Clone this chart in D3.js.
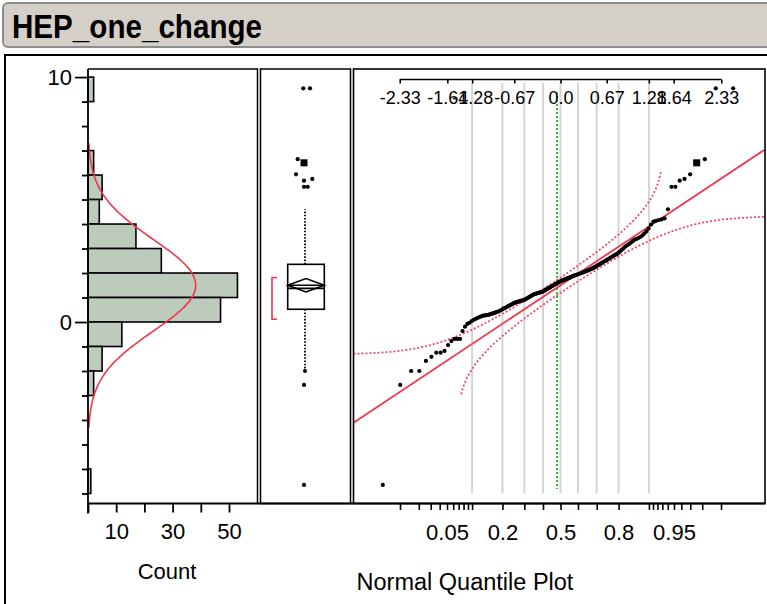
<!DOCTYPE html>
<html><head><meta charset="utf-8">
<script src="https://cdn.jsdelivr.net/npm/d3@7"></script>
<style>
body{margin:0;background:#fff}
svg{display:block}
text{font-family:"Liberation Sans",Arial,Helvetica,sans-serif;fill:#000}
</style>
</head><body>
<script>
// ---------------- DATA ----------------
const chartTitle = "HEP_one_change";
const countAxisTitle = "Count";
const qqAxisTitle = "Normal Quantile Plot";

// histogram bins (lower edge, width 1) and counts
const binLow = [9, 6, 5, 4, 3, 2, 1, 0, -1, -2, -3, -7];
const binCounts = [2, 2, 5, 4, 17, 26, 53, 47, 12, 5, 2, 1];
const binWidth = 1;

const sortedValues = [
-6.65,-2.57,-2.00,-2.00,-1.59,-1.42,-1.25,-1.25,-1.18,-0.94,
-0.78,-0.69,-0.69,-0.69,-0.37,-0.19,-0.08,-0.03,0.04,0.09,
0.13,0.17,0.20,0.23,0.26,0.27,0.28,0.29,0.31,0.33,
0.35,0.37,0.39,0.41,0.43,0.46,0.49,0.53,0.56,0.58,
0.61,0.64,0.66,0.69,0.72,0.74,0.77,0.79,0.80,0.82,
0.83,0.85,0.86,0.87,0.89,0.90,0.92,0.95,0.97,1.00,
1.02,1.05,1.07,1.10,1.12,1.14,1.15,1.16,1.18,1.19,
1.20,1.21,1.22,1.24,1.26,1.28,1.31,1.33,1.35,1.38,
1.40,1.42,1.45,1.47,1.49,1.52,1.54,1.56,1.59,1.61,
1.63,1.65,1.67,1.69,1.70,1.72,1.74,1.75,1.77,1.78,
1.80,1.81,1.83,1.85,1.86,1.88,1.90,1.91,1.93,1.94,
1.96,1.97,1.99,2.00,2.02,2.04,2.05,2.07,2.09,2.10,
2.12,2.14,2.16,2.18,2.20,2.23,2.25,2.28,2.31,2.33,
2.36,2.39,2.42,2.45,2.48,2.51,2.54,2.57,2.60,2.63,
2.66,2.70,2.73,2.76,2.79,2.84,2.89,2.95,3.00,3.06,
3.11,3.15,3.20,3.25,3.31,3.36,3.39,3.43,3.47,3.53,
3.61,3.70,3.82,3.98,4.10,4.13,4.16,4.19,4.23,4.60,
5.52,5.52,5.77,5.84,6.03,6.50,6.65,9.54,9.54
];
const highlightedValue = 6.50;   // row drawn with the large square marker

// summary statistics
const fitMean = 1.5;
const fitSD = 1.87;
const boxQ1 = 0.52, boxMedian = 1.375, boxQ3 = 2.355;
const shortestHalf = [0.11, 1.82];
const referenceZ = -0.05;        // green dotted reference line

// axis ticks
const valueTickLabels = [0, 10];
const countTicks = [0, 10, 20, 30, 40, 50];
const countTickLabels = [10, 30, 50];
const quantileTicks = [-2.33, -1.64, -1.28, -0.67, 0.0, 0.67, 1.28, 1.64, 2.33];
const quantileTickLabels = ["-2.33","-1.64","-1.28","-0.67","0.0","0.67","1.28","1.64","2.33"];
const probTicks = [0.01,0.02,0.03,0.04,0.05,0.06,0.07,0.08,0.09,0.1,0.2,0.3,0.4,0.5,0.6,0.7,0.8,0.9,0.91,0.92,0.93,0.94,0.95,0.96,0.97,0.98,0.99];
const probTickLabels = [0.05, 0.2, 0.5, 0.8, 0.95];
const gridProbs = [0.1,0.2,0.3,0.4,0.5,0.6,0.7,0.8,0.9];

// ---------------- helpers ----------------
function qnorm(p){
  const a=[-3.969683028665376e+01,2.209460984245205e+02,-2.759285104469687e+02,1.383577518672690e+02,-3.066479806614716e+01,2.506628277459239e+00];
  const b=[-5.447609879822406e+01,1.615858368580409e+02,-1.556989798598866e+02,6.680131188771972e+01,-1.328068155288572e+01];
  const c=[-7.784894002430293e-03,-3.223964580411365e-01,-2.400758277161838e+00,-2.549732539343734e+00,4.374664141464968e+00,2.938163982698783e+00];
  const d=[7.784695709041462e-03,3.224671290700398e-01,2.445134137142996e+00,3.754408661907416e+00];
  const pl=0.02425, ph=1-pl; let q,r;
  if(p<pl){q=Math.sqrt(-2*Math.log(p));return (((((c[0]*q+c[1])*q+c[2])*q+c[3])*q+c[4])*q+c[5])/((((d[0]*q+d[1])*q+d[2])*q+d[3])*q+1);}
  if(p<=ph){q=p-0.5;r=q*q;return (((((a[0]*r+a[1])*r+a[2])*r+a[3])*r+a[4])*r+a[5])*q/(((((b[0]*r+b[1])*r+b[2])*r+b[3])*r+b[4])*r+1);}
  q=Math.sqrt(-2*Math.log(1-p));return -(((((c[0]*q+c[1])*q+c[2])*q+c[3])*q+c[4])*q+c[5])/((((d[0]*q+d[1])*q+d[2])*q+d[3])*q+1);
}
function pnorm(z){
  const t=1/(1+0.2316419*Math.abs(z));
  const dd=0.3989423*Math.exp(-z*z/2);
  const p=dd*t*(0.3193815+t*(-0.3565638+t*(1.781478+t*(-1.821256+t*1.330274))));
  return z>0?1-p:p;
}

// ---------------- layout ----------------
const W = 767, H = 604;
const panelTop = 69, panelBottom = 503.5;
const hist = {x0: 88, x1: 257.5};
const boxP = {x0: 260.5, x1: 350.5};
const qq = {x0: 353.5, x1: 765};
const RED = "#f0364c", BAND = "#f04a66", BLACK = "#000";

const svg = d3.select("body").append("svg").attr("width", W).attr("height", H);

// title bar
svg.append("rect").attr("x",3).attr("y",3).attr("width",790).attr("height",44).attr("rx",5)
  .attr("fill","#d4d0c8").attr("stroke","#8c8c8c").attr("stroke-width",2);
svg.append("text").attr("x",12).attr("y",38).attr("font-size",34).attr("font-weight","bold")
  .attr("textLength",250).attr("lengthAdjust","spacingAndGlyphs").text(chartTitle);

// outer frame
svg.append("rect").attr("x",5).attr("y",55).attr("width",900).attr("height",700)
  .attr("fill","none").attr("stroke",BLACK).attr("stroke-width",2);

// scales
const y = d3.scaleLinear().domain([-7.41, 10.33]).range([panelBottom, panelTop]);
const xc = d3.scaleLinear().domain([0, 60.4]).range([hist.x0, hist.x0 + 60.4*2.82]);
const xz = d3.scaleLinear().domain([-3, 3]).range([353.5, 767.5]);

// ---------------- histogram ----------------
const gH = svg.append("g");
gH.selectAll("rect.bar").data(binLow.map((lo,i)=>({lo, c: binCounts[i]}))).join("rect")
  .attr("class","bar")
  .attr("x", xc(0)).attr("y", d=>y(d.lo+binWidth))
  .attr("width", d=>xc(d.c)-xc(0)).attr("height", d=>y(d.lo)-y(d.lo+binWidth))
  .attr("fill","#bdcbbd").attr("stroke",BLACK).attr("stroke-width",1.6);

const N = sortedValues.length;
const curvePts = d3.range(-4.3, 7.31, 0.05).map(v=>[v, N*binWidth*Math.exp(-0.5*((v-fitMean)/fitSD)**2)/(fitSD*Math.sqrt(2*Math.PI))]);
gH.append("path").datum(curvePts)
  .attr("d", d3.line().x(d=>xc(d[1])).y(d=>y(d[0])).curve(d3.curveBasis))
  .attr("fill","none").attr("stroke",RED).attr("stroke-width",1.6);

// frame of histogram panel
svg.append("path").attr("d",`M${hist.x0},${panelTop}H${hist.x1}V${panelBottom}`).attr("fill","none").attr("stroke",BLACK).attr("stroke-width",1.5);

// value axis
const yAxis = d3.axisLeft(y).tickValues(d3.range(-7, 11, 1)).tickSize(6).tickFormat("");
const gy = svg.append("g").attr("transform",`translate(${hist.x0},0)`).call(yAxis);
gy.select(".domain").attr("d",`M0,${panelTop}V${panelBottom+10}`).attr("stroke-width",1.8);
gy.selectAll(".tick line").attr("stroke-width",1.8);
gy.selectAll(".tick").filter(d=>valueTickLabels.includes(d)).select("line").attr("x2",-13);
svg.selectAll("text.ylab").data(valueTickLabels).join("text").attr("class","ylab")
  .attr("x",72).attr("y",d=>y(d)).attr("dy","0.36em").attr("text-anchor","end").attr("font-size",22).text(d=>d);

// count axis
const xAxis = d3.axisBottom(xc).tickValues(countTicks).tickSize(9).tickFormat(d=>countTickLabels.includes(d)?d:"");
const gx = svg.append("g").attr("transform",`translate(0,${panelBottom})`).call(xAxis);
gx.select(".domain").attr("d",`M${hist.x0},0H${qq.x1}`).attr("stroke-width",1.8);
gx.selectAll(".tick line").attr("stroke-width",1.8);
gx.selectAll(".tick text").attr("font-size",22).attr("y",20).attr("dy","0.71em").attr("font-family",null);
svg.append("text").attr("x",167).attr("y",579).attr("text-anchor","middle").attr("font-size",22).text(countAxisTitle);

// ---------------- box plot ----------------
const gB = svg.append("g");
svg.append("rect").attr("x",boxP.x0).attr("y",panelTop).attr("width",boxP.x1-boxP.x0).attr("height",panelBottom-panelTop)
  .attr("fill","none").attr("stroke",BLACK).attr("stroke-width",1.5);
const bx0 = 287.7, bx1 = 324.3, bcx = (bx0+bx1)/2;
const iqr = boxQ3 - boxQ1;
const lowFence = boxQ1 - 1.5*iqr, highFence = boxQ3 + 1.5*iqr;
const whiskLow = d3.min(sortedValues.filter(v=>v>=lowFence));
const whiskHigh = d3.max(sortedValues.filter(v=>v<=highFence));
const outliers = sortedValues.filter(v=>v<lowFence || v>highFence);
// horizontal jitter of outlier markers (pixels from box centre)
const outlierJitter = [-2, -2, -2, 1.7, -2, 6.3, -10, -2, -8.3, -2.7, 4];
const whiskX = bcx - 1;
gB.append("line").attr("x1",whiskX).attr("x2",whiskX).attr("y1",y(boxQ3)).attr("y2",y(whiskHigh))
  .attr("stroke",BLACK).attr("stroke-width",1.8).attr("stroke-dasharray","1.6,1.6");
gB.append("line").attr("x1",whiskX).attr("x2",whiskX).attr("y1",y(boxQ1)).attr("y2",y(whiskLow))
  .attr("stroke",BLACK).attr("stroke-width",1.8).attr("stroke-dasharray","1.6,1.6");
gB.append("circle").attr("cx",whiskX).attr("cy",y(whiskLow)).attr("r",2).attr("fill",BLACK);
gB.append("rect").attr("x",bx0).attr("y",y(boxQ3)).attr("width",bx1-bx0).attr("height",y(boxQ1)-y(boxQ3))
  .attr("fill","#fff").attr("stroke",BLACK).attr("stroke-width",1.6);
gB.append("line").attr("x1",bx0).attr("x2",bx1).attr("y1",y(boxMedian)).attr("y2",y(boxMedian)).attr("stroke",BLACK).attr("stroke-width",1.6);
const ci = 1.96*fitSD/Math.sqrt(N);
gB.append("path").attr("d",`M${bx0},${y(fitMean)}L${bcx},${y(fitMean+ci)}L${bx1},${y(fitMean)}L${bcx},${y(fitMean-ci)}Z`)
  .attr("fill","none").attr("stroke",BLACK).attr("stroke-width",1.6);
gB.append("line").attr("x1",bx0).attr("x2",bx1).attr("y1",y(fitMean)).attr("y2",y(fitMean)).attr("stroke",BLACK).attr("stroke-width",1.6);
// shortest half bracket
gB.append("path").attr("d",`M277,${y(shortestHalf[1])}H272V${y(shortestHalf[0])}H277`)
  .attr("fill","none").attr("stroke",RED).attr("stroke-width",1.6);
outliers.forEach((v,i)=>{
  const cx = bcx + outlierJitter[i];
  if (v===highlightedValue) gB.append("rect").attr("x",cx-3.5).attr("y",y(v)-3.5).attr("width",7).attr("height",7).attr("fill",BLACK);
  else gB.append("circle").attr("cx",cx).attr("cy",y(v)).attr("r",2.1).attr("fill",BLACK);
});

// ---------------- normal quantile plot ----------------
svg.append("defs").append("clipPath").attr("id","qqclip").append("rect")
  .attr("x",qq.x0).attr("y",panelTop).attr("width",qq.x1-qq.x0).attr("height",panelBottom-panelTop);
const gQ = svg.append("g").attr("clip-path","url(#qqclip)");
gQ.selectAll("line.grid").data(gridProbs).join("line").attr("class","grid")
  .attr("x1",d=>xz(qnorm(d))).attr("x2",d=>xz(qnorm(d))).attr("y1",83).attr("y2",493)
  .attr("stroke","#d4d4d4").attr("stroke-width",2);
gQ.append("line").attr("x1",xz(referenceZ)).attr("x2",xz(referenceZ)).attr("y1",92).attr("y2",489)
  .attr("stroke","#22c022").attr("stroke-width",2).attr("stroke-dasharray","2,2");

// fit line
gQ.append("line").attr("x1",xz(-3)).attr("x2",xz(3)).attr("y1",y(fitMean-3*fitSD)).attr("y2",y(fitMean+3*fitSD))
  .attr("stroke",RED).attr("stroke-width",1.8);
// Lilliefors confidence bands
const Dcrit = 0.886/Math.sqrt(N);
const zs = d3.range(-3, 3.001, 0.02);
const upper = zs.map(z=>[z, pnorm(z)+Dcrit]).filter(d=>d[1]<=0.995).map(d=>[d[0], fitMean+fitSD*qnorm(d[1])]);
const lower = zs.map(z=>[z, pnorm(z)-Dcrit]).filter(d=>d[1]>=0.006).map(d=>[d[0], fitMean+fitSD*qnorm(d[1])]);
const bandLine = d3.line().x(d=>xz(d[0])).y(d=>y(d[1]));
[upper, lower].forEach(b=>gQ.append("path").datum(b).attr("d",bandLine)
  .attr("fill","none").attr("stroke",BAND).attr("stroke-width",1.8).attr("stroke-dasharray","2,2"));

// points
const markerShift = -2.5;
const qqPts = sortedValues.map((v,i)=>({v, z: qnorm((i+1)/(N+1))}));
qqPts.forEach(d=>{
  const cx = xz(d.z)+markerShift, cy = y(d.v);
  if (d.v===highlightedValue) gQ.append("rect").attr("x",cx-3.5).attr("y",cy-3.5).attr("width",7).attr("height",7).attr("fill",BLACK);
  else gQ.append("circle").attr("cx",cx).attr("cy",cy).attr("r",2.1).attr("fill",BLACK);
});

// frame
svg.append("rect").attr("x",qq.x0).attr("y",panelTop).attr("width",qq.x1-qq.x0).attr("height",panelBottom-panelTop)
  .attr("fill","none").attr("stroke",BLACK).attr("stroke-width",1.6);

// top quantile axis
const axisTopY = 79.5;
const gT = svg.append("g").attr("transform",`translate(0,${axisTopY})`)
  .call(d3.axisBottom(xz).tickValues(quantileTicks).tickSize(4).tickFormat((d,i)=>quantileTickLabels[i]));
gT.select(".domain").attr("d",`M${xz(quantileTicks[0])},0H${xz(quantileTicks[quantileTicks.length-1])}`).attr("stroke-width",1.6);
gT.selectAll(".tick line").attr("stroke-width",1.6);
gT.selectAll(".tick text").attr("font-size",18).attr("y",12).attr("dy","0.71em").attr("font-family",null);

// bottom probability axis
const gP = svg.append("g").attr("transform",`translate(0,${panelBottom})`)
  .call(d3.axisBottom(xz).tickValues(probTicks.map(qnorm)).tickSize(6.5)
    .tickFormat((d,i)=>probTickLabels.includes(probTicks[i])?String(probTicks[i]):""));
gP.select(".domain").remove();
gP.selectAll(".tick line").attr("stroke-width",1.6);
gP.selectAll(".tick text").attr("font-size",22).attr("y",21).attr("dy","0.71em").attr("font-family",null);
svg.append("text").attr("x",465).attr("y",590).attr("text-anchor","middle").attr("font-size",23.5).text(qqAxisTitle);
</script>
</body></html>
